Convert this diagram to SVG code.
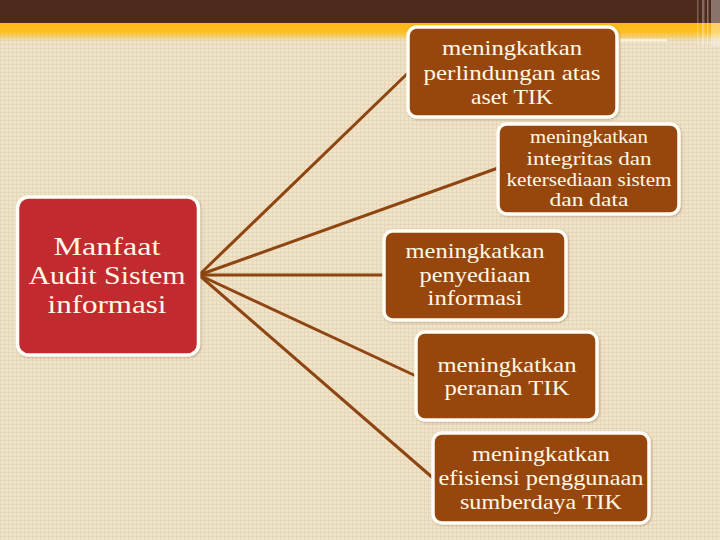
<svg xmlns="http://www.w3.org/2000/svg" width="720" height="540" viewBox="0 0 720 540">
<defs>
<pattern id="grid" width="4" height="4" patternUnits="userSpaceOnUse">
<rect width="4" height="4" fill="#EFE4CA"/>
<rect width="4" height="1" fill="#E5D7B7"/>
<rect width="1" height="4" fill="#E5D7B7"/>
</pattern>
<linearGradient id="yel" x1="0" y1="0" x2="0" y2="1">
<stop offset="0" stop-color="#FDB914"/>
<stop offset="0.5" stop-color="#FDBE22"/>
<stop offset="1" stop-color="#FDBE22" stop-opacity="0"/>
</linearGradient>
<filter id="sh" x="-10%" y="-10%" width="120%" height="120%">
<feDropShadow dx="1" dy="1" stdDeviation="1.2" flood-color="#6b4a2a" flood-opacity="0.35"/>
</filter>
</defs>
<style>
.box{fill:#974708;stroke:#FFFDF5;stroke-width:3.5;filter:url(#sh)}
.main{fill:#C1292F;stroke:#FFFDF5;stroke-width:3.5;filter:url(#sh)}
text{fill:#FFF8E6;text-anchor:middle}
.t{font-size:22px}
.s{font-size:18px}
.l{font-size:26px}
.con line{stroke:#8E4511;stroke-width:3;stroke-linecap:round}
</style>
<rect width="720" height="540" fill="url(#grid)"/>
<rect x="0" y="23" width="720" height="18" fill="url(#yel)"/>
<rect x="0" y="0" width="720" height="23" fill="#4E291D"/>
<rect x="620" y="39" width="47" height="2.5" fill="#FFF6DC" opacity="0.8"/>
<rect x="697" y="0" width="1.5" height="46" fill="#ffffff" opacity="0.25"/>
<rect x="702" y="0" width="2.5" height="46" fill="#ffffff" opacity="0.3"/>
<rect x="707" y="0" width="1.5" height="46" fill="#ffffff" opacity="0.35"/>
<rect x="711" y="0" width="9" height="46" fill="#ffffff" opacity="0.35"/>

<g id="connectors" class="con">
<line x1="199" y1="275" x2="409" y2="72"/>
<line x1="199" y1="275" x2="498" y2="168"/>
<line x1="199" y1="275" x2="384" y2="275"/>
<line x1="199" y1="275" x2="416" y2="376"/>
<line x1="199" y1="275" x2="433" y2="478"/>
</g>

<g font-family="'Liberation Serif', 'DejaVu Serif', 'Times New Roman', serif">
<g id="main">
<rect class="main" x="17.5" y="197" width="181" height="158" rx="11"/>
<text class="l" x="107" y="255" textLength="107" lengthAdjust="spacingAndGlyphs">Manfaat</text>
<text class="l" x="107" y="284" textLength="157" lengthAdjust="spacingAndGlyphs">Audit Sistem</text>
<text class="l" x="107" y="313" textLength="119" lengthAdjust="spacingAndGlyphs">informasi</text>
</g>

<g id="n1">
<rect class="box" x="408" y="27" width="209" height="90" rx="9"/>
<text class="t" x="512" y="55" textLength="140" lengthAdjust="spacingAndGlyphs">meningkatkan</text>
<text class="t" x="512" y="80" textLength="177" lengthAdjust="spacingAndGlyphs">perlindungan atas</text>
<text class="t" x="512" y="104" textLength="82" lengthAdjust="spacingAndGlyphs">aset TIK</text>
</g>

<g id="n2">
<rect class="box" x="498" y="124" width="181" height="90" rx="9"/>
<text class="s" x="589" y="143" textLength="118" lengthAdjust="spacingAndGlyphs">meningkatkan</text>
<text class="s" x="589" y="165" textLength="125" lengthAdjust="spacingAndGlyphs">integritas dan</text>
<text class="s" x="589" y="186" textLength="165" lengthAdjust="spacingAndGlyphs">ketersediaan sistem</text>
<text class="s" x="589" y="206" textLength="79" lengthAdjust="spacingAndGlyphs">dan data</text>
</g>

<g id="n3">
<rect class="box" x="384" y="231" width="182" height="89" rx="9"/>
<text class="t" x="475" y="258" textLength="139" lengthAdjust="spacingAndGlyphs">meningkatkan</text>
<text class="t" x="475" y="282" textLength="111" lengthAdjust="spacingAndGlyphs">penyediaan</text>
<text class="t" x="475" y="305" textLength="95" lengthAdjust="spacingAndGlyphs">informasi</text>
</g>

<g id="n4">
<rect class="box" x="416" y="332" width="181" height="88" rx="9"/>
<text class="t" x="507" y="372" textLength="139" lengthAdjust="spacingAndGlyphs">meningkatkan</text>
<text class="t" x="507" y="395" textLength="125" lengthAdjust="spacingAndGlyphs">peranan TIK</text>
</g>

<g id="n5">
<rect class="box" x="433" y="433" width="216" height="90" rx="9"/>
<text class="t" x="541" y="461" textLength="138" lengthAdjust="spacingAndGlyphs">meningkatkan</text>
<text class="t" x="541" y="485" textLength="205" lengthAdjust="spacingAndGlyphs">efisiensi penggunaan</text>
<text class="t" x="541" y="509" textLength="162" lengthAdjust="spacingAndGlyphs">sumberdaya TIK</text>
</g>
</g>
</svg>
